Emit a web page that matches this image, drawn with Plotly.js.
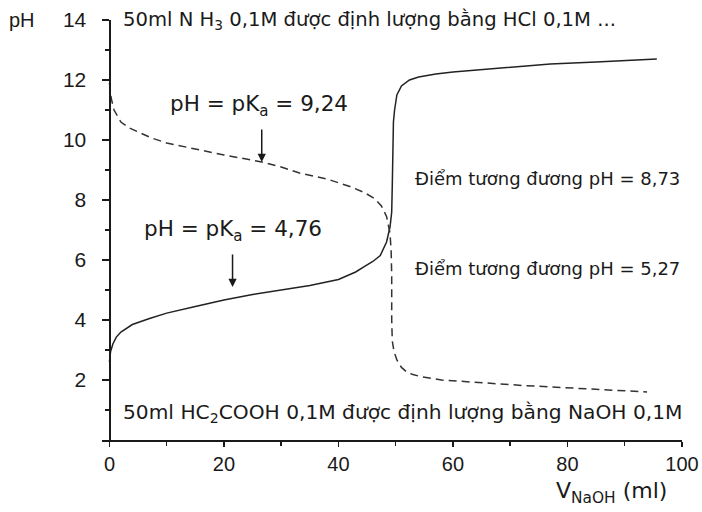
<!DOCTYPE html>
<html>
<head>
<meta charset="utf-8">
<script src="https://cdn.plot.ly/plotly-3.0.1.min.js"></script>
<style>html,body{margin:0;padding:0;background:#fff;}#chart{width:702px;height:512px;}</style>
</head>
<body>
<div id="chart"></div>
<script>
// Acid (HC2COOH titrated with NaOH) - solid curve
const acidVolume = [0, 0.2, 0.6, 1.2, 2, 4, 7, 10, 15, 20, 25, 30, 35, 40, 43, 44.5, 46, 47.3, 48.4, 49, 49.3, 49.4, 49.45, 49.5, 49.6, 49.8, 50.2, 51, 52.4, 54, 57, 60, 65, 70, 77, 85, 95.6];
const acidPH     = [2.6, 2.95, 3.2, 3.43, 3.6, 3.85, 4.05, 4.23, 4.45, 4.67, 4.85, 5.0, 5.15, 5.35, 5.6, 5.78, 5.95, 6.15, 6.6, 7.1, 7.6, 8.5, 9.3, 10.1, 10.6, 11.0, 11.5, 11.8, 12.0, 12.1, 12.2, 12.27, 12.35, 12.43, 12.53, 12.6, 12.7];
// Base (NH3 titrated with HCl) - dashed curve
const baseVolume = [0, 0.3, 0.8, 2, 3.5, 5, 7.3, 10, 15.7, 20, 26.6, 30, 33.2, 38, 42, 44.5, 46.3, 47.5, 48.4, 49, 49.2, 49.3, 49.3, 49.4, 49.7, 50.2, 51, 51.9, 53, 54.7, 58, 65, 72, 77, 85, 93.9];
const basePH     = [11.9, 11.4, 11.0, 10.6, 10.4, 10.27, 10.07, 9.9, 9.67, 9.5, 9.27, 9.1, 8.9, 8.7, 8.45, 8.25, 8.05, 7.8, 7.45, 6.9, 6.3, 5.5, 4.0, 3.3, 2.95, 2.67, 2.42, 2.27, 2.18, 2.1, 2.0, 1.9, 1.82, 1.77, 1.7, 1.6];
// Ticks
const xTicks = [0, 20, 40, 60, 80, 100];
const xMinor = [10, 30, 50, 70, 90];
const yTicks = [2, 4, 6, 8, 10, 12, 14];
const yMinor = [1, 3, 5, 7, 9, 11, 13];
// Texts
const topText = "50ml N H<sub>3</sub> 0,1M được định lượng bằng HCl 0,1M ...";
const bottomText = "50ml HC<sub>2</sub>COOH 0,1M được định lượng bằng NaOH 0,1M";
const pKaBase = "pH = pK<sub>a</sub> = 9,24";
const pKaAcid = "pH = pK<sub>a</sub> = 4,76";
const eqBase = "Điểm tương đương pH = 8,73";
const eqAcid = "Điểm tương đương pH = 5,27";
const yTitle = "pH";
const xTitle = "V<sub>NaOH</sub> (ml)";
const pKaBasePoint = [26.6, 9.27];
const pKaAcidPoint = [21.5, 5.1];

const FONT = "Liberation Sans, Arial, sans-serif";
const WIDE = "DejaVu Sans, Verdana, sans-serif";
const INK = "#1a1a1a";

const traces = [
  {x: acidVolume, y: acidPH, mode: "lines", line: {color: "#222", width: 1.5}, hoverinfo: "skip"},
  {x: baseVolume, y: basePH, mode: "lines", line: {color: "#333", width: 1.5, dash: "8px,5px"}, hoverinfo: "skip"}
];

const txt = (text, x, y, size, xanchor, family) => ({
  text: text, x: x, y: y, xref: "x", yref: "y", showarrow: false,
  xanchor: xanchor || "left", yanchor: "middle",
  font: {family: family || WIDE, size: size, color: INK}
});
const ptxt = (text, x, y, size, family) => ({
  text: text, x: x, y: y, xref: "paper", yref: "paper", showarrow: false,
  xanchor: "center", yanchor: "middle",
  font: {family: family || FONT, size: size, color: INK}
});
const arrow = (pt) => ({
  text: "", x: pt[0], y: pt[1], xref: "x", yref: "y", showarrow: true,
  ax: 0, ay: -34, arrowhead: 2, arrowsize: 1.1, arrowwidth: 1.5, arrowcolor: INK
});

const layout = {
  width: 702, height: 512,
  margin: {l: 102, r: 20, t: 20, b: 72},
  paper_bgcolor: "#fff", plot_bgcolor: "#fff",
  showlegend: false,
  font: {family: FONT, color: INK},
  xaxis: {
    range: [-1.3, 100], tickvals: xTicks, ticktext: xTicks.map(String),
    showgrid: false, zeroline: false, showline: true, linecolor: INK, linewidth: 1.5,
    ticks: "outside", ticklen: 5, tickwidth: 1.5, tickcolor: INK,
    minor: {tickvals: xMinor, ticks: "outside", ticklen: 4, tickwidth: 1.5, tickcolor: INK},
    tickfont: {family: FONT, size: 20, color: INK}
  },
  yaxis: {
    range: [0, 14], tickvals: yTicks, ticktext: yTicks.map(String),
    anchor: "free", position: 1.3 / 101.3,
    showgrid: false, zeroline: false, showline: true, linecolor: INK, linewidth: 1.5,
    ticks: "outside", ticklen: 7, tickwidth: 1.5, tickcolor: INK, ticklabelstandoff: 12,
    minor: {tickvals: yMinor, ticks: "outside", ticklen: 4, tickwidth: 1.5, tickcolor: INK},
    tickfont: {family: FONT, size: 21, color: INK}
  },
  annotations: [
    ptxt(yTitle, -0.138, 1.0, 20),
    ptxt(xTitle, 0.878, -0.126, 22, WIDE),
    txt(topText, 2, 14, 19.6),
    txt(bottomText, 2, 0.9, 20.2),
    txt(pKaBase, 26.2, 11.15, 21.5, "center"),
    txt(pKaAcid, 21.5, 6.97, 21.5, "center"),
    txt(eqBase, 100, 8.73, 18, "right"),
    txt(eqAcid, 100, 5.73, 18, "right"),
    arrow(pKaBasePoint),
    arrow(pKaAcidPoint)
  ]
};

Plotly.newPlot("chart", traces, layout, {staticPlot: true, displayModeBar: false});
</script>
</body>
</html>
